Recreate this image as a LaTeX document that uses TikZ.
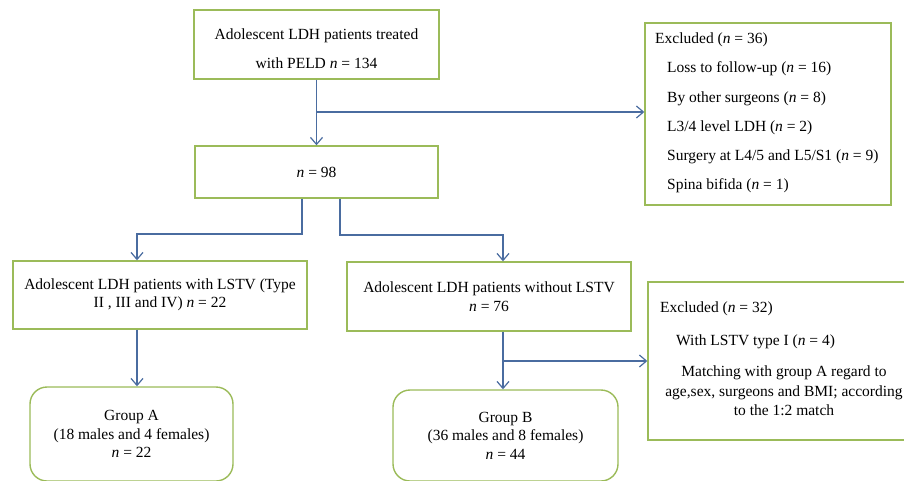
\documentclass[tikz,border=0pt]{standalone}
\usepackage{fontspec}
\setmainfont{Liberation Serif}
\usetikzlibrary{arrows.meta,calc}
\definecolor{boxgreen}{RGB}{155,187,89}
\definecolor{lineblue}{RGB}{74,108,160}
\begin{document}
\begin{tikzpicture}[x=1pt,y=-1pt,
  every node/.style={font=\fontsize{15.5}{18.5}\selectfont},
  sqbox/.style={draw=boxgreen,line width=1.4pt,fill=white,inner sep=0pt,align=center},
  rbox/.style={sqbox,rounded corners=17pt},
  txt/.style={inner sep=0pt,anchor=west},
  arr/.style={draw=lineblue,line width=1.2pt,-{Straight Barb[length=7pt,width=12pt,line width=1.2pt]}},
  ln/.style={draw=lineblue,line width=1.2pt}]
\useasboundingbox (0,0) rectangle (904,481);

% boxes
\node[sqbox,minimum width=245pt,minimum height=69pt] (top) at (316.5,44.5)
  {\rule{0pt}{20pt}Adolescent LDH patients treated\\[10.5pt]with PELD \textit{n} = 134};
\node[sqbox,minimum width=243pt,minimum height=52pt] (n98) at (316.5,172) {\textit{n} = 98};
\node[sqbox,minimum width=294pt,minimum height=68pt] (lstv) at (160,295)
  {Adolescent LDH patients with LSTV (Type\\II , III and IV) \textit{n} = 22};
\node[sqbox,minimum width=284pt,minimum height=69pt] (wo) at (489,296.5)
  {Adolescent LDH patients without LSTV\\\textit{n} = 76};
\node[rbox,minimum width=203pt,minimum height=94pt] (ga) at (131.5,434)
  {Group A\\(18 males and 4 females)\\\textit{n} = 22};
\node[rbox,minimum width=225pt,minimum height=91pt] (gb) at (505.5,435.5)
  {Group B\\(36 males and 8 females)\\\textit{n} = 44};

% excluded boxes
\node[sqbox,minimum width=246pt,minimum height=182pt] (ex1) at (768,114) {};
\node[txt] (ex1t) at (655,40) {Excluded (\textit{n} = 36)};
\node[txt] (ex1a) at (667,69) {Loss to follow-up (\textit{n} = 16)};
\node[txt] (ex1b) at (667,98.5) {By other surgeons (\textit{n} = 8)};
\node[txt] (ex1c) at (667,128) {L3/4 level LDH (\textit{n} = 2)};
\node[txt] (ex1d) at (667,157) {Surgery at L4/5 and L5/S1 (\textit{n} = 9)};
\node[txt] (ex1e) at (667,186) {Spina bifida (\textit{n} = 1)};

\node[sqbox,minimum width=260pt,minimum height=158pt] (ex2) at (778,361) {};
\node[txt] (ex2t) at (660,309) {Excluded (\textit{n} = 32)};
\node[txt] (ex2a) at (676,342) {With LSTV type I (\textit{n} = 4)};
\node[inner sep=0pt,align=center,font=\fontsize{15.5}{19.5}\selectfont] (ex2b) at (784,391)
  {Matching with group A regard to\\age,sex, surgeons and BMI; according\\to the 1:2 match};

% connectors
\coordinate (b1) at (316.5,112);
\draw[arr] (top.south) -- (n98.north);
\draw[arr] (b1) -- (b1 -| ex1.west);

\coordinate (l1) at (302,198);
\coordinate (l2) at (302,234);
\coordinate (l3) at (137,234);
\draw[arr] (l1 |- n98.south) -- (l2) -- (l3) -- (l3 |- lstv.north);

\coordinate (r1) at (340,235);
\coordinate (r2) at (503,235);
\draw[arr] (r1 |- n98.south) -- (r1) -- (r2) -- (r2 |- wo.north);

\coordinate (a1) at (137,330);
\draw[arr] (a1 |- lstv.south) -- (a1 |- ga.north);

\coordinate (c1) at (503,361);
\draw[arr] (c1 |- wo.south) -- (c1 |- gb.north);
\draw[arr] (c1) -- (c1 -| ex2.west);
\end{tikzpicture}
\end{document}
